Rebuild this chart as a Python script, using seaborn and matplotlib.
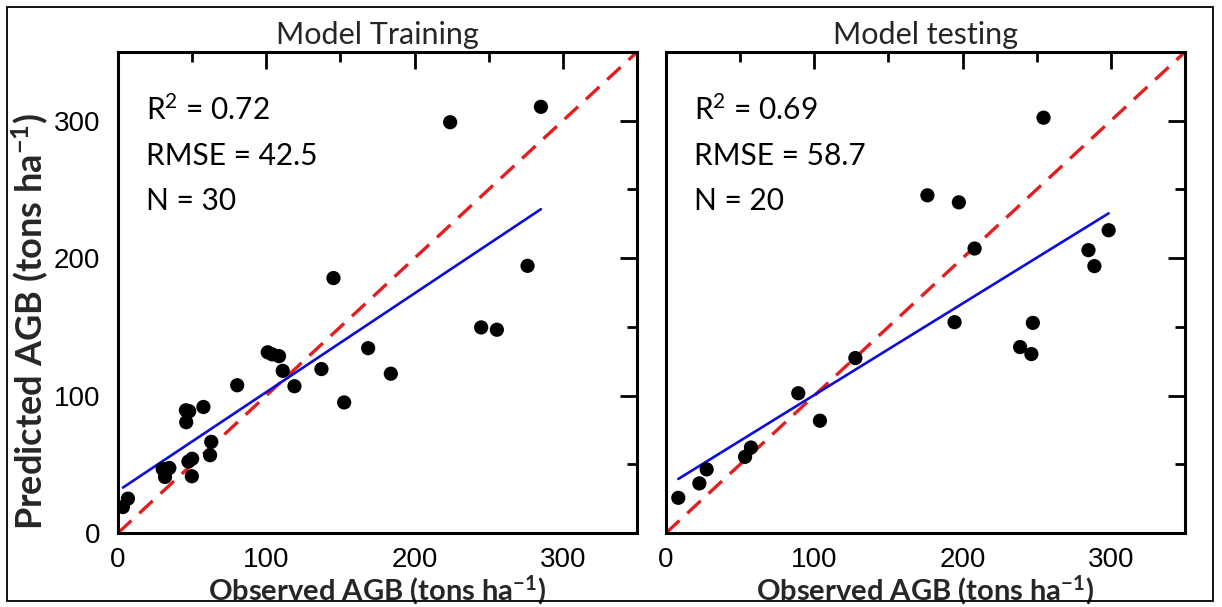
import numpy as np
import pandas as pd
import matplotlib
matplotlib.use("Agg")
import matplotlib.pyplot as plt
from matplotlib.patches import Rectangle
from matplotlib.ticker import MultipleLocator
import seaborn as sns

# Observed vs predicted above-ground biomass (tons/ha)
train_observed = [285.2, 224.0, 145.3, 276.2, 244.9, 255.5, 168.7, 101.0, 104.0, 108.6,
                  111.1, 137.2, 184.0, 119.0, 80.4, 152.5, 45.8, 48.0, 57.6, 46.0,
                  62.9, 62.1, 47.5, 50.0, 49.8, 30.1, 34.6, 31.7, 6.7, 3.3]
train_predicted = [310.1, 298.9, 185.5, 194.4, 149.6, 147.9, 134.5, 131.5, 130.0, 128.7,
                   118.0, 119.3, 115.9, 106.8, 107.5, 95.0, 89.3, 88.6, 91.7, 80.6,
                   66.3, 56.6, 52.0, 54.0, 41.3, 46.6, 47.3, 40.8, 25.0, 18.9]

test_observed = [254.6, 176.3, 197.5, 208.1, 284.9, 298.5, 288.9, 194.6, 247.4, 238.8,
                 246.4, 127.7, 89.2, 103.8, 57.3, 53.3, 27.4, 22.5, 8.3]
test_predicted = [302.2, 245.7, 240.6, 207.0, 205.8, 220.3, 194.2, 153.4, 152.9, 135.3,
                  130.2, 127.3, 101.7, 81.7, 62.2, 55.4, 46.3, 36.1, 25.6]

panel_titles = ["Model Training", "Model testing"]
r2_values = ["0.72", "0.69"]
rmse_values = ["42.5", "58.7"]
n_values = ["30", "20"]
one_to_one = [0, 350]
tick_values = [0, 100, 200, 300]
tick_labels = ["0", "100", "200", "300"]

sns.set_theme(style="white")
plt.rcParams["font.family"] = ["Lato", "DejaVu Sans"]
plt.rcParams["mathtext.fontset"] = "custom"
plt.rcParams["mathtext.rm"] = "Lato"
plt.rcParams["mathtext.it"] = "Lato:italic"
plt.rcParams["mathtext.bf"] = "Lato:bold"

fig = plt.figure(figsize=(12.22, 6.07), dpi=100)
fig.patch.set_facecolor("white")
ax_w = 519 / 1222
ax_h = 481 / 607
ax_b = 74 / 607
axes = [fig.add_axes([118 / 1222, ax_b, ax_w, ax_h]),
        fig.add_axes([666 / 1222, ax_b, ax_w, ax_h])]

datasets = [
    pd.DataFrame({"observed": train_observed, "predicted": train_predicted}),
    pd.DataFrame({"observed": test_observed, "predicted": test_predicted}),
]

tick_font = dict(fontsize=20, fontfamily="Liberation Sans", color="black")

for i, (ax, df) in enumerate(zip(axes, datasets)):
    # 1:1 reference line
    ref = pd.DataFrame({"x": one_to_one, "y": one_to_one})
    sns.lineplot(data=ref, x="x", y="y", ax=ax, color="#e41e1e", lw=2.4,
                 dashes=False, zorder=2)
    ax.lines[-1].set_dashes((5.5, 3.2))
    # least-squares fit of predicted on observed
    sns.regplot(data=df, x="observed", y="predicted", ax=ax, scatter=False,
                ci=None, truncate=True,
                line_kws=dict(color="#0c0cdc", lw=1.9, zorder=3))
    sns.scatterplot(data=df, x="observed", y="predicted", ax=ax, color="black",
                    s=105, edgecolor="none", zorder=4)

    ax.set_xlim(0, 350)
    ax.set_ylim(0, 350)
    ax.set_xticks(tick_values, labels=tick_labels, **tick_font)
    if i == 0:
        ax.set_yticks(tick_values, labels=tick_labels, **tick_font)
    else:
        ax.set_yticks(tick_values, labels=["" for _ in tick_labels])
    ax.xaxis.set_minor_locator(MultipleLocator(50))
    ax.yaxis.set_minor_locator(MultipleLocator(50))
    ax.tick_params(which="major", direction="in", length=12, width=2,
                   top=True, right=True, color="black")
    ax.tick_params(axis="y", which="major", pad=13)
    ax.tick_params(axis="x", which="major", pad=10)
    ax.tick_params(which="minor", direction="in", length=7, width=2,
                   top=True, right=True, color="black")
    for sp in ax.spines.values():
        sp.set_visible(True)
        sp.set_color("black")
        sp.set_linewidth(2.2)

    ax.set_title(panel_titles[i], fontsize=22, pad=6)
    ax.set_xlabel(r"Observed AGB (tons ha$^{\mathbf{-1}}$)", fontsize=21,
                  fontweight="bold", labelpad=0)
    if i == 0:
        ax.set_ylabel(r"Predicted AGB (tons ha$^{\mathbf{-1}}$)", fontsize=26,
                      fontweight="bold")
        ax.yaxis.set_label_coords(-0.13, 0.44)
    else:
        ax.set_ylabel("")

    stats = [r"R$^{2}$ = " + r2_values[i],
             "RMSE = " + rmse_values[i],
             "N = " + n_values[i]]
    for k, s in enumerate(stats):
        ax.text(0.054, 0.858 - k * 0.0935, s, transform=ax.transAxes,
                fontsize=21.5, va="baseline", ha="left", color="black")

# outer frame around the whole figure
fig.patches.append(Rectangle((7 / 1222, 6 / 607), 1206 / 1222, 594 / 607,
                             transform=fig.transFigure, fill=False,
                             edgecolor="black", lw=1.3))

fig.savefig("out.png", dpi=100, facecolor="white")
